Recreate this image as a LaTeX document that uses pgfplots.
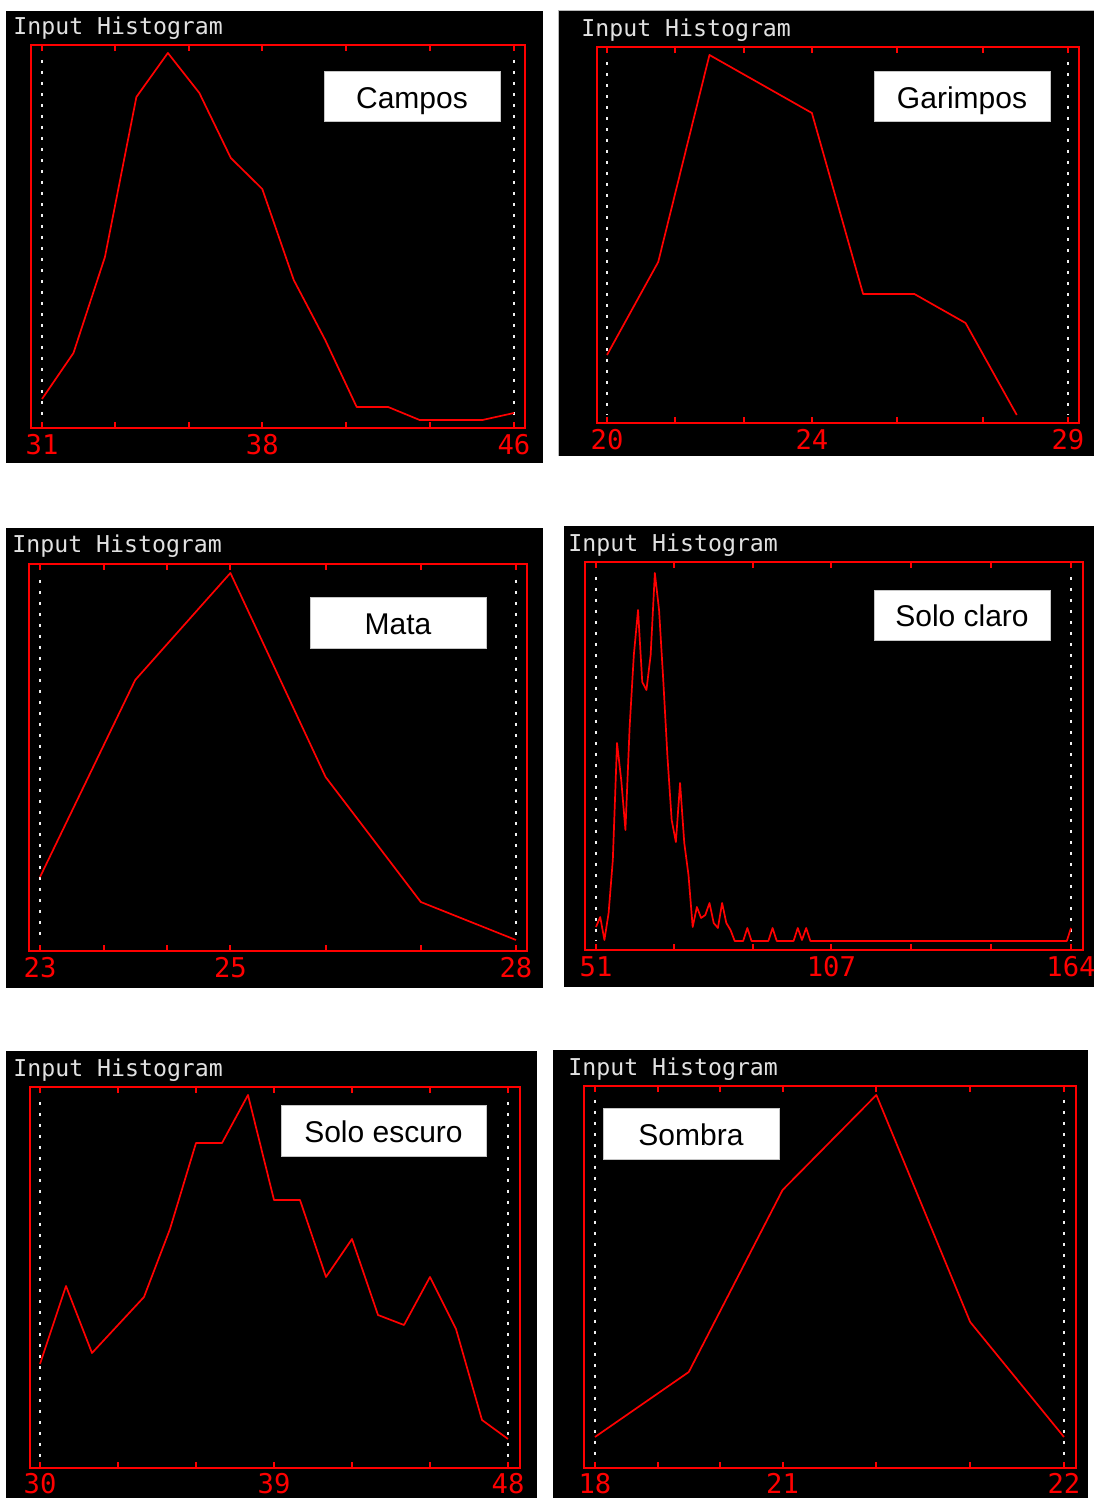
\documentclass[border=0pt]{standalone}
\usepackage{fontspec}
\setmainfont{Liberation Sans}
\newfontfamily\monof{DejaVu Sans Mono}
\usepackage{pgfplots}
\pgfplotsset{compat=1.18}
\definecolor{tgray}{RGB}{225,225,225}
\definecolor{dgray}{RGB}{240,240,240}
\definecolor{hred}{RGB}{255,0,0}
\pgfplotsset{
  histo/.style={
    scale only axis,
    anchor=south west,
    axis background/.style={fill=black},
    axis line style={hred, line width=1pt},
    xtick pos=both,
    xticklabel pos=lower,
    tick align=inside,
    major tick length=3pt,
    tick style={hred, line width=1pt},
    ytick=\empty,
    xticklabel style={font=\monof\fontsize{13.6}{14}\selectfont, text=hred, anchor=north, inner sep=0pt, yshift=-3.2pt},
  },
  dotl/.style={dgray, line width=1.35pt, dash pattern=on 1.35pt off 4.15pt},
  curve/.style={hred, line width=0.85pt, line join=round, mark=none},
}
\begin{document}
\begin{tikzpicture}
\fill[white] (0,0) rectangle (547pt,749pt);
\path[use as bounding box] (0,0) rectangle (547pt,749pt);
\begin{scope}[shift={(0pt,749pt)}, x=0.5pt, y=-0.5pt]
  \fill[black] (6,11) rectangle (543,463);
  \fill[black] (558,10) rectangle (1094,456);
  \draw[gray!55, line width=0.8pt] (558.5,456) -- (558.5,10.5) -- (1094,10.5);
  \fill[black] (6,528) rectangle (543,988);
  \fill[black] (564,526) rectangle (1094,987);
  \fill[black] (6,1051) rectangle (537,1498);
  \fill[black] (553,1050) rectangle (1088,1498);
\end{scope}

% ---------- Campos ----------
\begin{axis}[histo, at={(15.5pt,535pt)}, width=246.75pt, height=191.5pt,
  xmin=30.650, xmax=46.334, ymin=-8, ymax=375,
  xtick={31,33.333,35.667,38,40.667,43.333,46}, xticklabels={31,,,38,,,46}]
\addplot[dotl] coordinates {(31,360) (31,0)};
\addplot[dotl] coordinates {(46,360) (46,0)};
\addplot[curve] coordinates {(31,21) (32,67) (33,163) (34,323) (35,367) (36,327) (37,262) (38,231) (39,140) (40,80) (41,13) (42,13) (43,0) (44,0) (45,0) (46,7)};
\end{axis}

% ---------- Garimpos ----------
\begin{axis}[histo, at={(298.35pt,537.65pt)}, width=241pt, height=188pt,
  xmin=19.799, xmax=29.209, ymin=-7.7, ymax=368.3,
  xtick={20,21.333,22.667,24,25.667,27.333,29}, xticklabels={20,,,24,,,29}]
\addplot[dotl] coordinates {(20,353) (20,0)};
\addplot[dotl] coordinates {(29,353) (29,0)};
\addplot[curve] coordinates {(20,60) (21,153) (22,360) (23,331) (24,302) (25,121) (26,121) (27,92) (28,0)};
\end{axis}

% ---------- Mata ----------
\begin{axis}[histo, at={(14.5pt,273.5pt)}, width=249pt, height=193.5pt,
  xmin=22.884, xmax=28.116, ymin=-9, ymax=378,
  xtick={23,23.667,24.333,25,26,27,28}, xticklabels={23,,,25,,,28}]
\addplot[dotl] coordinates {(23,362) (23,0)};
\addplot[dotl] coordinates {(28,362) (28,0)};
\addplot[curve] coordinates {(23,65) (24,262) (25,369) (26,165) (27,40) (28,2)};
\end{axis}

% ---------- Solo claro ----------
\begin{axis}[histo, at={(292.25pt,274pt)}, width=249.05pt, height=193.85pt,
  xmin=48.264, xmax=166.76, ymin=-9, ymax=378.7,
  xtick={51,69.667,88.333,107,126,145,164}, xticklabels={51,,,107,,,164}]
\addplot[dotl] coordinates {(51,364) (51,0)};
\addplot[dotl] coordinates {(164,364) (164,0)};
\addplot[curve] coordinates {(51,14) (52,24) (53,1) (54,28) (55,81) (56,198) (57,161) (58,111) (59,214) (60,286) (61,331) (62,259) (63,251) (64,286) (65,368) (66,331) (67,261) (68,184) (69,121) (70,99) (71,158) (72,98) (73,66) (74,14) (75,34) (76,23) (77,26) (78,38) (79,18) (80,13) (81,38) (82,18) (83,11) (84,0) (86,0) (87,13) (88,0) (92,0) (93,13) (94,0) (98,0) (99,13) (100,1) (101,13) (102,0) (163,0) (164,13)};
\end{axis}

% ---------- Solo escuro ----------
\begin{axis}[histo, at={(14.75pt,14.85pt)}, width=245.15pt, height=190.8pt,
  xmin=29.596, xmax=48.454, ymin=-8.3, ymax=373.3,
  xtick={30,33,36,39,42,45,48}, xticklabels={30,,,39,,,48},
  xticklabel style={yshift=0.8pt}]
\addplot[dotl] coordinates {(30,358) (30,0)};
\addplot[dotl] coordinates {(48,358) (48,0)};
\addplot[curve] coordinates {(30,96) (31,174) (32,107) (33,135) (34,163) (35,231) (36,317) (37,317) (38,365) (39,260) (40,260) (41,183) (42,221) (43,145) (44,135) (45,183) (46,131) (47,40) (48,21)};
\end{axis}

% ---------- Sombra ----------
\begin{axis}[histo, at={(292pt,15.15pt)}, width=245.75pt, height=191pt,
  xmin=-0.117, xmax=5.123, ymin=-7.7, ymax=374.3,
  xtick={0,0.667,1.333,2,3,4,5}, xticklabels={18,,,21,,,22},
  xticklabel style={yshift=0.8pt}]
\addplot[dotl] coordinates {(0,360) (0,0)};
\addplot[dotl] coordinates {(5,360) (5,0)};
\addplot[curve] coordinates {(0,23) (1,88) (2,270) (3,365) (4,138) (5,23)};
\end{axis}

\begin{scope}[shift={(0pt,749pt)}, x=0.5pt, y=-0.5pt]
  \tikzset{ttl/.style={anchor=base west, inner sep=0pt, text=tgray, font=\monof\fontsize{11.6}{12}\selectfont},
           lbox/.style={fill=white, draw=gray!45, line width=0.5pt},
           ltxt/.style={anchor=base, inner sep=0pt, font=\fontsize{15}{16}\selectfont}}
  \node[ttl] at (13,35) {Input Histogram};
  \node[ttl] at (581,37) {Input Histogram};
  \node[ttl] at (12,553) {Input Histogram};
  \node[ttl] at (568,552) {Input Histogram};
  \node[ttl] at (13,1077) {Input Histogram};
  \node[ttl] at (568,1076) {Input Histogram};
  \draw[lbox] (324,72) rectangle (500,122);   \node[ltxt] at (412,108.5) {Campos};
  \draw[lbox] (874,72) rectangle (1050,122);  \node[ltxt] at (962,108.5) {Garimpos};
  \draw[lbox] (310,598) rectangle (486,649);  \node[ltxt] at (398,634.5) {Mata};
  \draw[lbox] (874,591) rectangle (1050,641); \node[ltxt] at (962,627) {Solo claro};
  \draw[lbox] (281,1106) rectangle (486,1157);\node[ltxt] at (383.5,1142.5) {Solo escuro};
  \draw[lbox] (603,1109) rectangle (779,1160);\node[ltxt] at (691,1145.5) {Sombra};
\end{scope}
\end{tikzpicture}
\end{document}
